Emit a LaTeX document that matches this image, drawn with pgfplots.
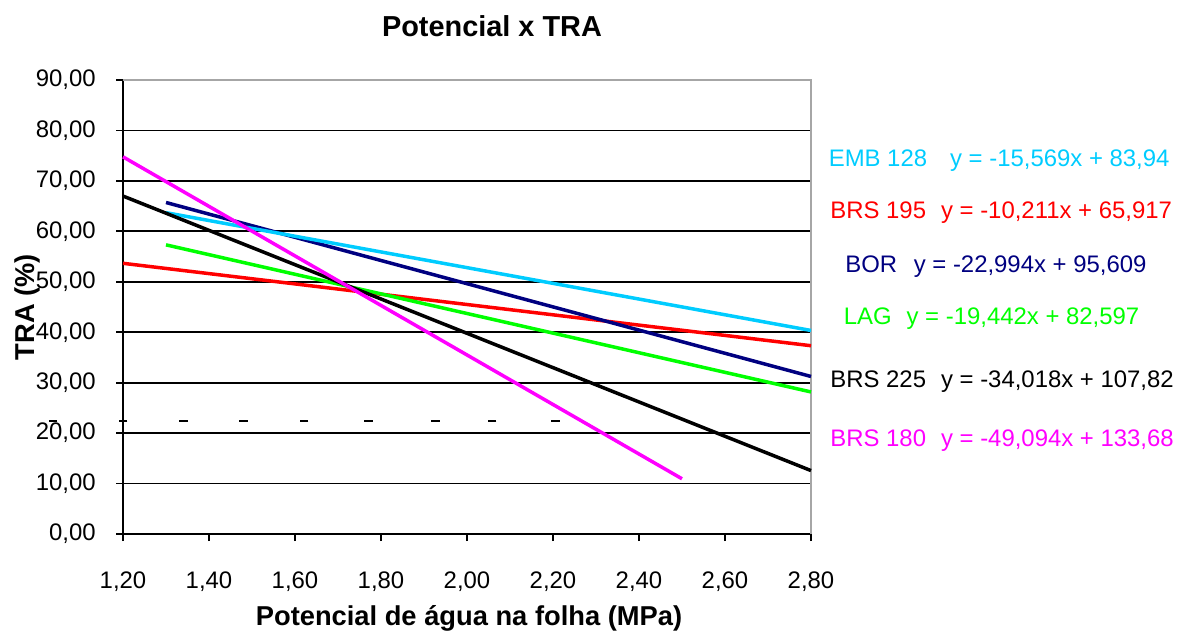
\documentclass[border=0pt]{standalone}
\usepackage{fontspec}
\setmainfont{Liberation Sans}
\usepackage{pgfplots}
\pgfplotsset{compat=1.18}
\definecolor{embc}{RGB}{0,204,255}
\definecolor{borc}{RGB}{0,0,128}
\definecolor{lagc}{RGB}{0,255,0}
\definecolor{redc}{RGB}{255,0,0}
\definecolor{magc}{RGB}{255,0,255}
\begin{document}
\begin{tikzpicture}
\useasboundingbox (0,0) rectangle (594bp,317bp);
\begin{axis}[
  at={(61.5bp,50bp)}, anchor=south west,
  scale only axis, width=344bp, height=227bp,
  xmin=1.2, xmax=2.8, ymin=0, ymax=90,
  xtick={1.2,1.4,1.6,1.8,2.0,2.2,2.4,2.6,2.8},
  ytick={0,10,20,30,40,50,60,70,80,90},
  axis lines*=left,
  axis line style={-, black, line width=0.9bp},
  tick align=outside, major tick length=3.5bp,
  tick style={black, line width=0.9bp},
  ymajorgrids, grid style={black, line width=0.9bp},
  clip=false,
  /pgf/number format/fixed,
  /pgf/number format/fixed zerofill,
  /pgf/number format/precision=2,
  /pgf/number format/use comma,
  /pgf/number format/assume math mode=true,
  ticklabel style={font=\fontsize{12}{14}\selectfont},
  xticklabel style={anchor=center, yshift=-20.5bp},
  yticklabel style={anchor=east, inner sep=0pt, xshift=-10bp},
]
\draw[gray!70, line width=0.9bp] (rel axis cs:0,1) -- (rel axis cs:1,1) -- (rel axis cs:1,0);
% dash markers
\addplot[only marks, mark=-, mark size=2.2bp, mark options={line width=1bp, black}] coordinates {
(1.037,22.4) (1.20,22.4) (1.3415,22.4) (1.480,22.4) (1.621,22.4) (1.770,22.4) (1.926,22.4) (2.058,22.4) (2.206,22.4)};
% BRS 195
\addplot[redc, line width=1.75bp] coordinates {(1.2,53.664) (2.8,37.326)};
% LAG
\addplot[lagc, line width=1.75bp] coordinates {(1.3,57.322) (2.8,28.159)};
% BOR
\addplot[borc, line width=1.75bp] coordinates {(1.3,65.717) (2.8,31.226)};
% EMB 128
\addplot[embc, line width=1.75bp] coordinates {(1.3,63.700) (2.8,40.347)};
% BRS 225
\addplot[black, line width=1.75bp] coordinates {(1.2,66.998) (2.8,12.570)};
% BRS 180
\addplot[magc, line width=1.75bp] coordinates {(1.2,74.767) (2.5,10.945)};
\end{axis}
\node[anchor=base, font=\fontsize{14.5}{16}\selectfont\bfseries] at (246bp,298.5bp) {Potencial x TRA};
\node[anchor=base, font=\fontsize{13.7}{16}\selectfont\bfseries] at (234.5bp,4.5bp) {Potencial de água na folha (MPa)};
\node[anchor=center, rotate=90, font=\fontsize{13.7}{16}\selectfont\bfseries] at (13.5bp,163.5bp) {TRA (\%)};
\begin{scope}[every node/.style={anchor=base west, inner sep=0pt, font=\fontsize{12}{14}\selectfont}]
\node[text=embc] at (414.2bp,233.75bp) {EMB 128\hspace{11.5bp}y = -15,569x + 83,94};
\node[text=redc] at (415bp,207.75bp) {BRS 195\hspace{7.5bp}y = -10,211x + 65,917};
\node[text=borc] at (422.5bp,180.75bp) {BOR\hspace{8.3bp}y = -22,994x + 95,609};
\node[text=lagc] at (421.7bp,154.5bp) {LAG\hspace{7.5bp}y = -19,442x + 82,597};
\node[text=black] at (415bp,123.25bp) {BRS 225\hspace{7.5bp}y = -34,018x + 107,82};
\node[text=magc] at (415bp,93.75bp) {BRS 180\hspace{7.5bp}y = -49,094x + 133,68};
\end{scope}
\end{tikzpicture}
\end{document}
